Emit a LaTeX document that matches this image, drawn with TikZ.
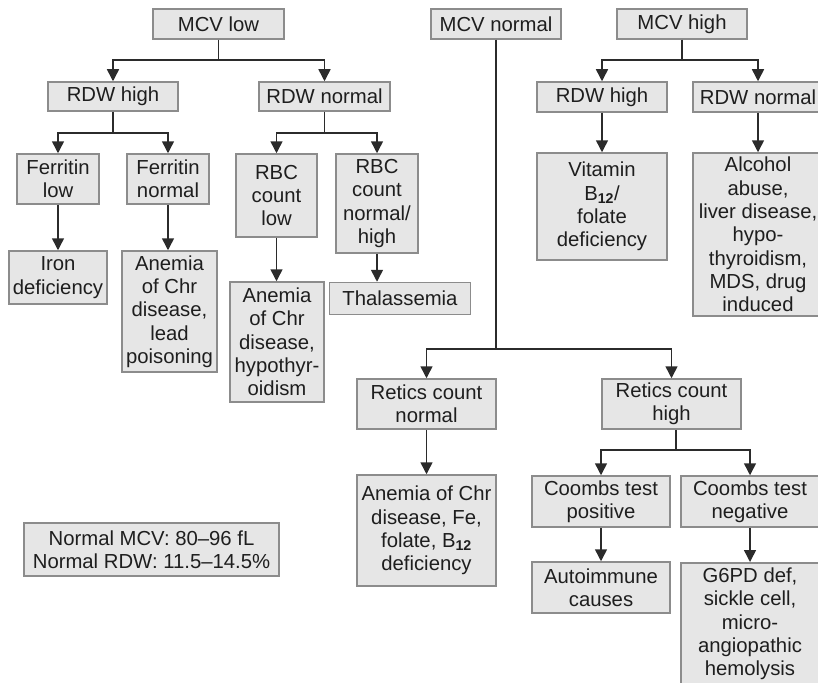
\documentclass[tikz,border=0pt]{standalone}
\usepackage{fontspec}
\setmainfont{Liberation Sans}
\usetikzlibrary{arrows.meta}
\definecolor{boxfill}{HTML}{E6E6E6}
\definecolor{boxline}{HTML}{8C8C8C}
\definecolor{conn}{HTML}{2B2B2B}
\definecolor{txt}{HTML}{1E1E1E}
\newcommand{\subtw}{\textsubscript{\bfseries 12}}
\begin{document}
\begin{tikzpicture}[x=1pt,y=-1pt,
  box/.style={draw=boxline, fill=boxfill, line width=1.5pt, inner sep=0pt,
    align=center, text=txt, font=\fontsize{20.3}{23.3}\selectfont},
  arr/.style={draw=conn, line width=1.5pt, -{Triangle[width=12pt,length=12pt]}},
  ln/.style={draw=conn, line width=1.5pt}]
\useasboundingbox (0,0) rectangle (818,682);
\clip (0,0) rectangle (818,682);

% top level
\node[box, minimum width=131pt, minimum height=30pt] (mcvlow) at (218.5,24) {MCV low};
\node[box, minimum width=130pt, minimum height=30pt] (mcvnorm) at (496,24) {MCV normal};
\node[box, minimum width=130pt, minimum height=30pt] (mcvhigh) at (682,24) {MCV high};

% MCV low branch
\node[box, minimum width=130pt, minimum height=29pt] (rdwh1) at (113,96.5) {RDW high};
\node[box, minimum width=131pt, minimum height=29pt] (rdwn1) at (324.5,96.5) {RDW normal};
\node[box, minimum width=82pt, minimum height=50pt] (ferlow) at (58,179) {Ferritin\\low};
\node[box, minimum width=82pt, minimum height=50pt] (fernorm) at (168,179) {Ferritin\\normal};
\node[box, minimum width=81pt, minimum height=83pt] (rbclow) at (276.5,195.5) {RBC\\count\\low};
\node[box, minimum width=82pt, minimum height=99pt] (rbcnh) at (377,203.5) {RBC\\count\\normal/\\high};
\node[box, minimum width=98pt, minimum height=53pt] (iron) at (58,277.5) {Iron\\deficiency};
\node[box, minimum width=95pt, minimum height=121pt] (anchr1) at (169.5,311.5) {Anemia\\of Chr\\disease,\\lead\\poisoning};
\node[box, minimum width=94pt, minimum height=120pt] (anchr2) at (277,342) {Anemia\\of Chr\\disease,\\hypothyr-\\oidism};
\node[box, minimum width=141pt, minimum height=32pt] (thal) at (400,298.5) {Thalassemia};

% MCV high branch
\node[box, minimum width=130pt, minimum height=30pt] (rdwh2) at (602,97) {RDW high};
\node[box, minimum width=130pt, minimum height=30pt] (rdwn2) at (758,97) {RDW normal};
\node[box, minimum width=130pt, minimum height=107pt] (vit) at (602,206.5) {Vitamin\\B\subtw/\\folate\\deficiency};
\node[box, minimum width=130pt, minimum height=163pt] (alc) at (758,234.5) {Alcohol\\abuse,\\liver disease,\\hypo-\\thyroidism,\\MDS, drug\\induced};

% MCV normal branch
\node[box, minimum width=139pt, minimum height=50pt] (retn) at (426.5,404) {Retics count\\normal};
\node[box, minimum width=139pt, minimum height=50pt] (reth) at (671.5,404) {Retics count\\high};
\node[box, minimum width=139pt, minimum height=111pt] (anchr3) at (426.5,530.5) {Anemia of Chr\\disease, Fe,\\folate, B\subtw\\deficiency};
\node[box, minimum width=138pt, minimum height=51pt] (coomp) at (601,501.5) {Coombs test\\positive};
\node[box, minimum width=138pt, minimum height=51pt] (coomn) at (750,501.5) {Coombs test\\negative};
\node[box, minimum width=138pt, minimum height=51pt] (auto) at (601,587.5) {Autoimmune\\causes};
\node[box, minimum width=138pt, minimum height=122pt, anchor=north] (g6pd) at (750,562) {G6PD def,\\sickle cell,\\micro-\\angiopathic\\hemolysis};

% legend
\node[box, minimum width=255pt, minimum height=53pt] (legend) at (151.5,549.5) {Normal MCV: 80--96 fL\\Normal RDW: 11.5--14.5\%};

% connectors: MCV low
\coordinate (j1) at (218.5,60);
\draw[ln] (mcvlow.south) -- (j1);
\draw[arr] (j1) -| (rdwh1.north);
\draw[arr] (j1) -| (rdwn1.north);

\coordinate (j2) at (113,133);
\draw[ln] (rdwh1.south) -- (j2);
\draw[arr] (j2) -| (ferlow.north);
\draw[arr] (j2) -| (fernorm.north);

\coordinate (j3) at (324.5,133);
\draw[ln] (rdwn1.south) -- (j3);
\draw[arr] (j3) -| (rbclow.north);
\draw[arr] (j3) -| (rbcnh.north);

\draw[arr] (ferlow.south) -- (iron.north);
\draw[arr] (fernorm.south) -- (fernorm.south |- anchr1.north);
\draw[arr] (rbclow.south) -- (rbclow.south |- anchr2.north);
\draw[arr] (rbcnh.south) -- (rbcnh.south |- thal.north);

% connectors: MCV high
\coordinate (j4) at (682,60);
\draw[ln] (mcvhigh.south) -- (j4);
\draw[arr] (j4) -| (rdwh2.north);
\draw[arr] (j4) -| (rdwn2.north);
\draw[arr] (rdwh2.south) -- (vit.north);
\draw[arr] (rdwn2.south) -- (alc.north);

% connectors: MCV normal
\coordinate (j5) at (496,349);
\draw[ln] (mcvnorm.south) -- (j5);
\draw[arr] (j5) -| (retn.north);
\draw[arr] (j5) -| (reth.north);
\draw[arr] (retn.south) -- (anchr3.north);

\coordinate (j6) at (676,450);
\draw[ln] (reth.south -| j6) -- (j6);
\draw[arr] (j6) -| (coomp.north);
\draw[arr] (j6) -| (coomn.north);
\draw[arr] (coomp.south) -- (auto.north);
\draw[arr] (coomn.south) -- (g6pd.north);
\end{tikzpicture}
\end{document}
